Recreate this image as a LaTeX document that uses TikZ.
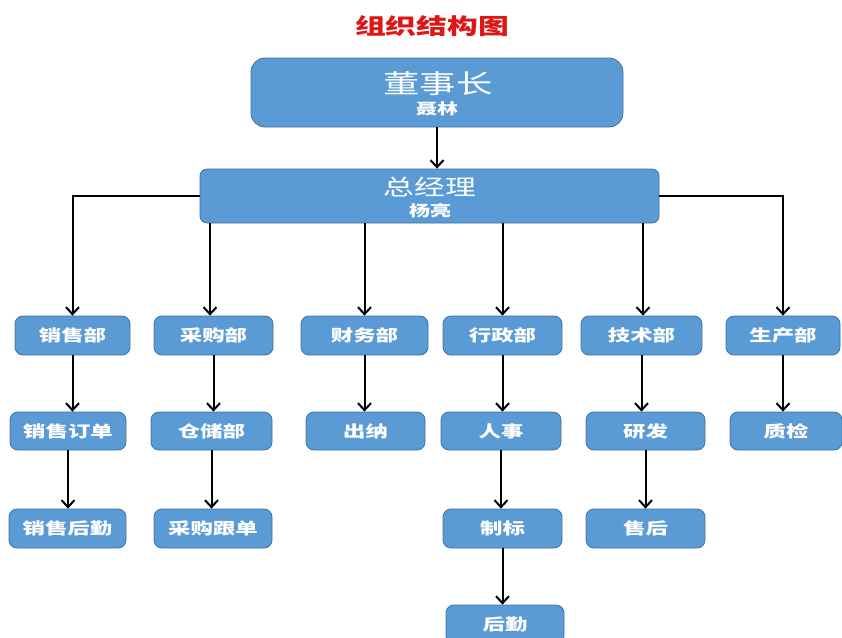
\documentclass[tikz,border=0pt]{standalone}
\usepackage{fontspec}
\setmainfont{Noto Sans CJK SC}[FakeStretch=1.4]
\usetikzlibrary{arrows.meta}
\definecolor{boxfill}{RGB}{91,155,213}
\definecolor{boxline}{RGB}{65,113,156}
\definecolor{titlered}{RGB}{222,22,22}
\tikzset{
  box/.style={draw=boxline, line width=0.8pt, fill=boxfill, rounded corners=8pt,
    text=white, font=\bfseries\fontsize{16}{18}\selectfont, inner sep=0pt},
  arr/.style={draw=black, line width=2pt, -{Straight Barb[length=7pt,width=13pt,line width=2pt]}},
  whitetext/.style={text=white, inner sep=0pt}
}
\begin{document}
\begin{tikzpicture}[x=1pt,y=-1pt]
\clip (0,0) rectangle (842,637);
\fill[white] (0,0) rectangle (842,637);

\node[text=titlered, font=\bfseries\fontsize{22}{24}\selectfont] (title) at (432,26) {组织结构图};

% top boxes
\node[box, rounded corners=14pt, minimum width=372, minimum height=69] (dsz) at (437,92.5) {};
\node[whitetext, font=\fontsize{26}{30}\selectfont] (dszt) at (438,84) {董事长};
\node[whitetext, font=\bfseries\fontsize{15}{17}\selectfont] (dszn) at (437,109) {聂林};

\node[box, rounded corners=7pt, minimum width=459, minimum height=54] (zjl) at (429.5,196) {};
\node[whitetext, font=\fontsize{22}{24}\selectfont] (zjlt) at (430,187) {总经理};
\node[whitetext, font=\bfseries\fontsize{15}{17}\selectfont] (zjln) at (430,211) {杨亮};

% row 1
\node[box, minimum width=115, minimum height=39] (xs) at (72.5,335.5) {销售部};
\node[box, minimum width=119, minimum height=39] (cg) at (213.5,335.5) {采购部};
\node[box, minimum width=127, minimum height=39] (cw) at (364.5,335.5) {财务部};
\node[box, minimum width=119, minimum height=39] (xz) at (502.5,335.5) {行政部};
\node[box, minimum width=121, minimum height=39] (js) at (641.5,335.5) {技术部};
\node[box, minimum width=114, minimum height=39] (sc) at (783,335.5) {生产部};

% row 2
\node[box, minimum width=116, minimum height=38] (xsdd) at (68,431) {销售订单};
\node[box, minimum width=121, minimum height=38] (cc) at (211.5,431) {仓储部};
\node[box, minimum width=119, minimum height=38] (cn) at (365.5,431) {出纳};
\node[box, minimum width=120, minimum height=38] (rs) at (501,431) {人事};
\node[box, minimum width=119, minimum height=38] (yf) at (645.5,431) {研发};
\node[box, minimum width=112, minimum height=38] (zj) at (786,431) {质检};

% row 3
\node[box, minimum width=117, minimum height=39] (xshq) at (67.5,528.5) {销售后勤};
\node[box, minimum width=118, minimum height=39] (cggd) at (213,528.5) {采购跟单};
\node[box, minimum width=119, minimum height=39] (zb) at (502.5,528.5) {制标};
\node[box, minimum width=119, minimum height=39] (sh) at (645.5,528.5) {售后};

% row 4
\node[box, minimum width=118, minimum height=39] (hq) at (505,624.5) {后勤};

% connectors
\draw[arr] (dsz.south) -- (dsz.south |- zjl.north);
\draw[arr] (zjl.west) -| (xs.north);
\draw[arr] (zjl.east) -| (sc.north);
\draw[arr] (zjl.south -| 210,0) -- (210,0 |- cg.north);
\draw[arr] (zjl.south -| cw) -- (cw.north);
\draw[arr] (zjl.south -| xz) -- (xz.north);
\draw[arr] (zjl.south -| 643,0) -- (643,0 |- js.north);

\draw[arr] (xs.south) -- (xs.south |- xsdd.north);
\draw[arr] (xsdd.south) -- (xsdd.south |- xshq.north);
\draw[arr] (cg.south) -- (cg.south |- cc.north);
\draw[arr] (cc.south) -- (cc.south |- cggd.north);
\draw[arr] (cw.south) -- (cw.south |- cn.north);
\draw[arr] (xz.south) -- (xz.south |- rs.north);
\draw[arr] (rs.south) -- (rs.south |- zb.north);
\draw[arr] (zb.south) -- (zb.south |- hq.north);
\draw[arr] (js.south) -- (js.south |- yf.north);
\draw[arr] (yf.south) -- (yf.south |- sh.north);
\draw[arr] (sc.south) -- (sc.south |- zj.north);
\end{tikzpicture}
\end{document}
